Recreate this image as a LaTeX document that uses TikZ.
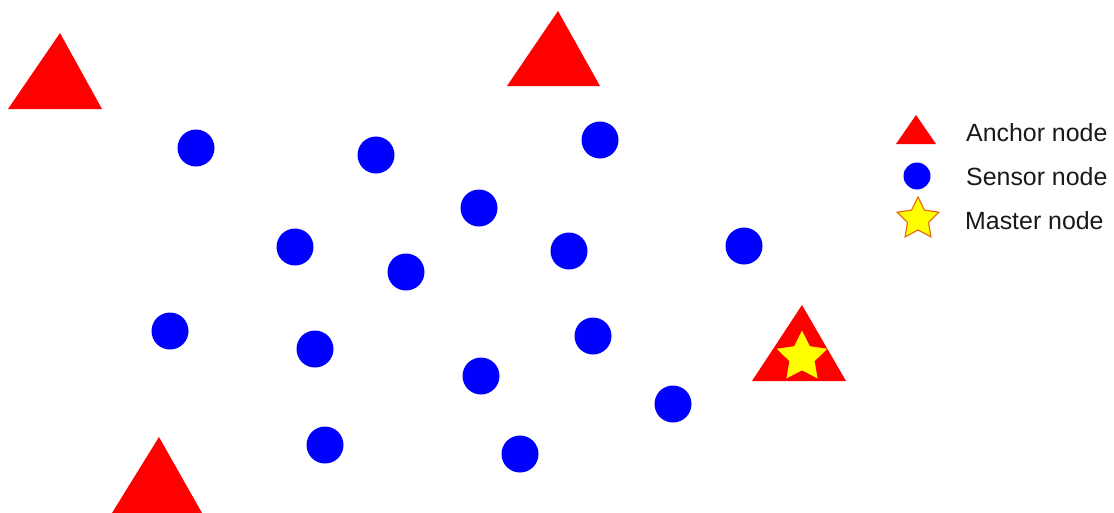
\documentclass[tikz,border=0pt]{standalone}
\usepackage{fontspec}
\setmainfont{Liberation Sans}
\usetikzlibrary{shapes.geometric}
\definecolor{anchorred}{RGB}{255,0,0}
\definecolor{sensorblue}{RGB}{0,0,255}
\definecolor{staryellow}{RGB}{255,255,0}
\definecolor{starorange}{RGB}{235,110,20}
\tikzset{
  sensor/.style={circle,fill=sensorblue,draw=none,minimum size=37pt,inner sep=0pt},
  anchortri/.style={fill=anchorred,draw=none},
  masterstar/.style={star,star points=5,star point ratio=2.0,fill=staryellow,inner sep=0pt,minimum size=52pt},
  legtext/.style={anchor=base west,font=\fontsize{24.9}{28}\selectfont,inner sep=0pt,text=black!90}
}
\begin{document}
\begin{tikzpicture}[x=1pt,y=-1pt]
\useasboundingbox (0,0) rectangle (1114,512);
% anchor triangles
\path[anchortri] (60,33) -- (102,109) -- (8,109) -- cycle;
\path[anchortri] (558,11) -- (600,86) -- (507,86) -- cycle;
\path[anchortri] (159,437) -- (202,513) -- (112,513) -- cycle;
\path[anchortri] (802,305) -- (846,381) -- (752,381) -- cycle;
\node[masterstar,draw=staryellow] (master) at (802,357) {};
% sensors
\node[sensor] (s1) at (196,148) {};
\node[sensor] (s2) at (376,155) {};
\node[sensor] (s3) at (600,140) {};
\node[sensor] (s4) at (479,208) {};
\node[sensor] (s5) at (295,247) {};
\node[sensor] (s6) at (406,272) {};
\node[sensor] (s7) at (569,251) {};
\node[sensor] (s8) at (744,246) {};
\node[sensor] (s9) at (170,331) {};
\node[sensor] (s10) at (315,349) {};
\node[sensor] (s11) at (593,336) {};
\node[sensor] (s12) at (481,376) {};
\node[sensor] (s13) at (673,404) {};
\node[sensor] (s14) at (325,445) {};
\node[sensor] (s15) at (520,454) {};
% legend
\path[anchortri] (916,115) -- (936,144) -- (896,144) -- cycle;
\node[sensor,minimum size=27pt] (legsensor) at (917,176) {};
\node[masterstar,minimum size=44pt,draw=starorange,line width=1.2pt] (legstar) at (918,219) {};
\node[legtext] (ltA) at (966,141) {Anchor node};
\node[legtext] (ltS) at (966,185) {Sensor node};
\node[legtext] (ltM) at (965,229) {Master node};
\end{tikzpicture}
\end{document}
